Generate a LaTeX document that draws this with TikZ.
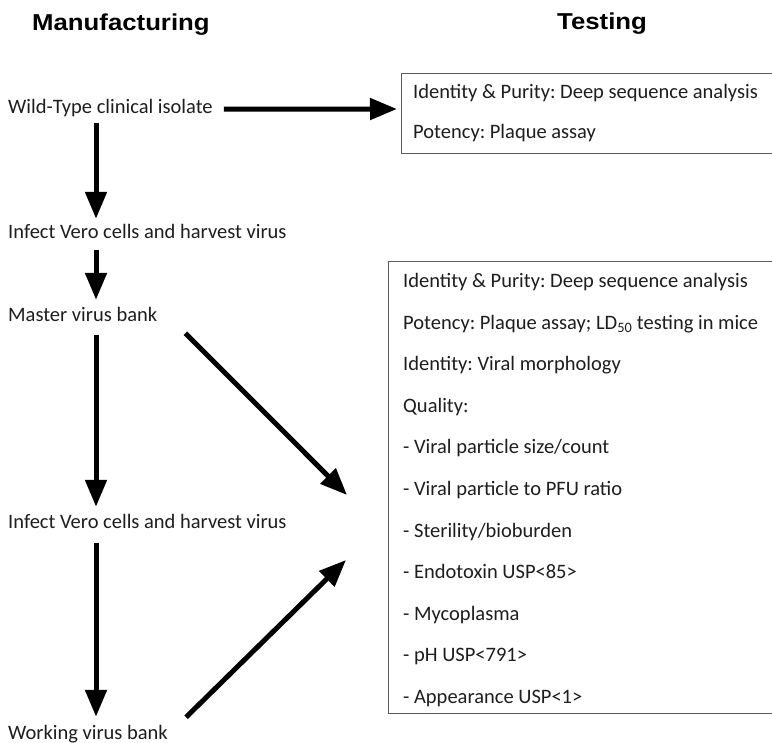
\documentclass[tikz,border=0pt]{standalone}
\usepackage{fontspec}
\setmainfont{Carlito}
\newfontfamily\hdrfont[FakeStretch=1.12]{Liberation Sans}
\usetikzlibrary{arrows.meta,calc}
\definecolor{txtc}{HTML}{1E1E1E}
\definecolor{boxc}{HTML}{5A5A5A}
\tikzset{
  txt/.style={anchor=base west, inner sep=0pt, text height=14pt, text depth=4.5pt, text=txtc, font=\fontsize{20.5}{23}\selectfont},
  hdr/.style={anchor=base west, inner sep=0pt, font=\hdrfont\bfseries\fontsize{23}{26}\selectfont},
  boxst/.style={draw=boxc, line width=1.3pt, anchor=north west, inner sep=0pt},
  arr/.style={line width=5pt, -{Triangle[length=27pt,width=21pt]}},
}
\begin{document}
\frenchspacing
\begin{tikzpicture}[x=1pt,y=-1pt]
\useasboundingbox (0,0) rectangle (772,743);
\clip (0,0) rectangle (772,743);
\fill[white] (0,0) rectangle (772,743);

% headers
\node[hdr] (hm) at (32,31) {Manufacturing};
\node[hdr] (ht) at (557,30) {Testing};

% manufacturing steps
\node[txt] (wt) at (8,114) {Wild-Type clinical isolate};
\node[txt] (inf1) at (8,239) {Infect Vero cells and harvest virus};
\node[txt] (mvb) at (8,322) {Master virus bank};
\node[txt] (inf2) at (8,529) {Infect Vero cells and harvest virus};
\node[txt] (wvb) at (8,739) {Working virus bank};

% boxes
\node[boxst, minimum width=440pt, minimum height=80pt] (b1) at (401,73) {};
\node[boxst, minimum width=450pt, minimum height=452pt] (b2) at (388,261) {};

% box 1 text
\node[txt] (b1a) at (413,99) {Identity \& Purity: Deep sequence analysis};
\node[txt] (b1b) at (413,139) {Potency: Plaque assay};

% box 2 text
\node[txt] (l1) at (403,288) {Identity \& Purity: Deep sequence analysis};
\node[txt] (l2) at (403,329.5) {Potency: Plaque assay; LD\textsubscript{50} testing in mice};
\node[txt] (l3) at (403,371) {Identity: Viral morphology};
\node[txt] (l4) at (403,412.5) {Quality:};
\node[txt] (l5) at (403,454) {- Viral particle size/count};
\node[txt] (l6) at (403,495.5) {- Viral particle to PFU ratio};
\node[txt] (l7) at (403,537) {- Sterility/bioburden};
\node[txt] (l8) at (403,578.5) {- Endotoxin USP<85>};
\node[txt] (l9) at (403,620) {- Mycoplasma};
\node[txt] (l10) at (403,661.5) {- pH USP<791>};
\node[txt] (l11) at (403,703) {- Appearance USP<1>};

% free arrow ends
\coordinate (t1) at (397,109);
\coordinate (d1) at (347,495);
\coordinate (d2) at (346,560);

% connectors
\draw[arr] ([xshift=11pt]wt.east) -- (t1);
\draw[arr] ([shift={(88,4.5)}]wt.south west) -- ([shift={(88,-6)}]inf1.north west);
\draw[arr] ([shift={(88,6.5)}]inf1.south west) -- ([shift={(88,-8)}]mvb.north west);
\draw[arr] ([shift={(88,8.5)}]mvb.south west) -- ([shift={(88,-8)}]inf2.north west);
\draw[arr] ([shift={(88,9.5)}]inf2.south west) -- ([shift={(88,-8)}]wvb.north west);
\draw[arr] ([shift={(28,16)}]mvb.east) -- (d1);
\draw[arr] ([shift={(18,-17)}]wvb.east) -- (d2);
\end{tikzpicture}
\end{document}
